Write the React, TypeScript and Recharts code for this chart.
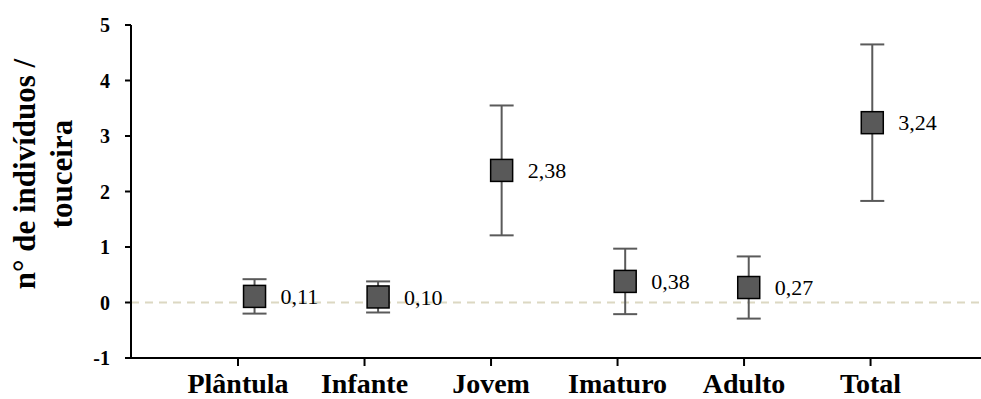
import React from 'react';
import {
  ScatterChart,
  Scatter,
  XAxis,
  YAxis,
  ErrorBar,
  ReferenceLine,
} from 'recharts';

// Classes de tamanho e médias (± desvio)
const categories = ['Plântula', 'Infante', 'Jovem', 'Imaturo', 'Adulto', 'Total'];
const means = [0.11, 0.1, 2.38, 0.38, 0.27, 3.24];
const deviations = [0.31, 0.28, 1.17, 0.59, 0.56, 1.41];
const yTicks = [-1, 0, 1, 2, 3, 4, 5];

const data = categories.map((name, i) => ({
  x: i + 1,
  name,
  mean: means[i],
  err: deviations[i],
}));

const FONT = '"Liberation Serif", "Times New Roman", serif';

const fmt = (v: number) => v.toFixed(2).replace('.', ',');

const Marker = (props: any) => {
  const { cx, cy, payload } = props;
  const s = 22;
  return (
    <g>
      <rect
        x={cx - s / 2}
        y={cy - s / 2}
        width={s}
        height={s}
        fill="#595959"
        stroke="#000"
        strokeWidth={1.5}
      />
      <text
        x={cx + 26}
        y={cy}
        dy="0.35em"
        fontFamily={FONT}
        fontSize={22}
        fill="#000"
      >
        {fmt(payload.mean)}
      </text>
    </g>
  );
};

const YTitle = () => (
  <g fontFamily={FONT} fontSize={31} fontWeight="bold" fill="#000">
    <text transform="translate(35,174) rotate(-90)" textAnchor="middle">
      n° de indivíduos /
    </text>
    <text transform="translate(72,174) rotate(-90)" textAnchor="middle">
      touceira
    </text>
  </g>
);

const App = () => {
  return (
    <div style={{ position: 'absolute', left: 0, top: 0, background: '#fff' }}>
      <ScatterChart
        width={981}
        height={399}
        margin={{ top: 25, right: 0, bottom: 0, left: 0 }}
      >
        <XAxis
          xAxisId="pts"
          dataKey="x"
          type="number"
          domain={[0, 6.88]}
          allowDataOverflow
          hide
        />
        <XAxis
          xAxisId="cat"
          dataKey="x"
          type="number"
          domain={[0.154, 6.873]}
          ticks={[1, 2, 3, 4, 5, 6]}
          allowDataOverflow
          height={41}
          tickFormatter={(v: number) => categories[v - 1] ?? ''}
          axisLine={{ stroke: '#000', strokeWidth: 2 }}
          tickLine={{ stroke: '#000', strokeWidth: 2 }}
          tickSize={8}
          tickMargin={7}
          tick={{ fontFamily: FONT, fontSize: 28, fontWeight: 'bold', fill: '#000' }}
          interval={0}
        />
        <YAxis
          dataKey="mean"
          type="number"
          domain={[-1, 5]}
          ticks={yTicks}
          allowDataOverflow
          width={131}
          axisLine={{ stroke: '#000', strokeWidth: 2 }}
          tickLine={{ stroke: '#000', strokeWidth: 2 }}
          tickSize={6}
          tickMargin={15}
          tick={{ fontFamily: FONT, fontSize: 20, fontWeight: 'bold', fill: '#000' }}
          interval={0}
          label={{ content: () => <YTitle /> }}
        />
        <ReferenceLine
          y={0}
          xAxisId="pts"
          stroke="#dcd8c2"
          strokeWidth={2}
          strokeDasharray="8 6"
        />
        {/* invisible series so the category axis gets its ticks */}
        <Scatter
          data={data}
          xAxisId="cat"
          dataKey="mean"
          shape={() => <g />}
          isAnimationActive={false}
        />
        <Scatter
          data={data}
          xAxisId="pts"
          dataKey="mean"
          shape={Marker}
          isAnimationActive={false}
        >
          <ErrorBar
            dataKey="err"
            direction="y"
            width={12}
            stroke="#5a5a5a"
            strokeWidth={2}
          />
        </Scatter>
      </ScatterChart>
    </div>
  );
};

export default App;
